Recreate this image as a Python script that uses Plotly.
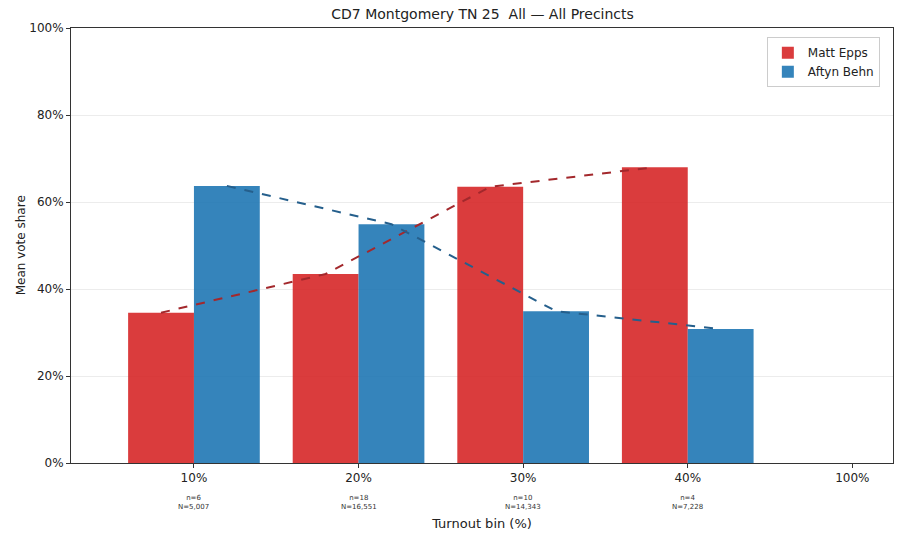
import plotly.graph_objects as go

categories = ["10%", "20%", "30%", "40%", "100%"]
epps = [34.55, 43.45, 63.5, 68.0, None]
behn = [63.7, 54.9, 34.9, 30.8, None]
n_precincts = ["6", "18", "10", "4", None]
n_votes = ["5,007", "16,551", "14,343", "7,228", None]

x_idx = list(range(len(categories)))
bar_w = 0.4

fig = go.Figure()
fig.add_trace(go.Bar(
    x=x_idx, y=epps, width=bar_w, offset=-bar_w, name="Matt Epps",
    marker=dict(color="rgba(214,39,40,0.9)", line=dict(width=0)),
))
fig.add_trace(go.Bar(
    x=x_idx, y=behn, width=bar_w, offset=0, name="Aftyn Behn",
    marker=dict(color="rgba(31,119,180,0.9)", line=dict(width=0)),
))

ex = [i - bar_w / 2 for i, v in zip(x_idx, epps) if v is not None]
ey = [v for v in epps if v is not None]
bx = [i + bar_w / 2 for i, v in zip(x_idx, behn) if v is not None]
by = [v for v in behn if v is not None]
fig.add_trace(go.Scatter(x=ex, y=ey, mode="lines", showlegend=False,
                         line=dict(color="#a3282c", width=2, dash="dash")))
fig.add_trace(go.Scatter(x=bx, y=by, mode="lines", showlegend=False,
                         line=dict(color="#255f8c", width=2, dash="dash")))

for i, (a, b) in enumerate(zip(n_precincts, n_votes)):
    if a is None:
        continue
    fig.add_annotation(x=i, y=0, xref="x", yref="paper", yshift=-29,
                       text=f"n={a}<br>N={b}", showarrow=False,
                       yanchor="top", font=dict(size=7, color="#333"))

fig.add_annotation(x=-0.061, y=0.5, xref="paper", yref="paper",
                   text="Mean vote share", textangle=-90, showarrow=False,
                   xanchor="center", yanchor="middle",
                   font=dict(size=12, color="#222"))

fig.update_layout(
    width=902, height=538,
    margin=dict(l=71, r=9, t=28, b=75),
    plot_bgcolor="white", paper_bgcolor="white",
    barmode="overlay",
    font=dict(family="DejaVu Sans", size=12, color="#222"),
    title=dict(text="CD7 Montgomery TN 25  All — All Precincts",
               x=0.535, xanchor="center", y=0.973, yanchor="middle",
               font=dict(size=14, color="#222")),
    legend=dict(x=0.984, y=0.979, xanchor="right", yanchor="top",
                bordercolor="#cccccc", borderwidth=1, bgcolor="white",
                font=dict(size=12), tracegroupgap=0),
    xaxis=dict(range=[-0.747, 4.247], tickmode="array", tickvals=x_idx,
               ticktext=categories, showgrid=False, zeroline=False,
               showline=True, linecolor="#333", mirror=True,
               ticks="outside", ticklen=4, tickcolor="#333",
               title=dict(text="Turnout bin (%)", standoff=34,
                          font=dict(size=13))),
    yaxis=dict(range=[0, 100], tickvals=[0, 20, 40, 60, 80, 100],
               ticktext=["0%", "20%", "40%", "60%", "80%", "100%"],
               showgrid=True, gridcolor="#ececec", zeroline=False,
               showline=True, linecolor="#333", mirror=True,
               ticks="outside", ticklen=4, tickcolor="#333"),
)

fig.write_html("out.html",
               config={"displayModeBar": False},
               post_script="document.body.style.margin='0';"
                           "document.body.style.overflow='hidden';")
